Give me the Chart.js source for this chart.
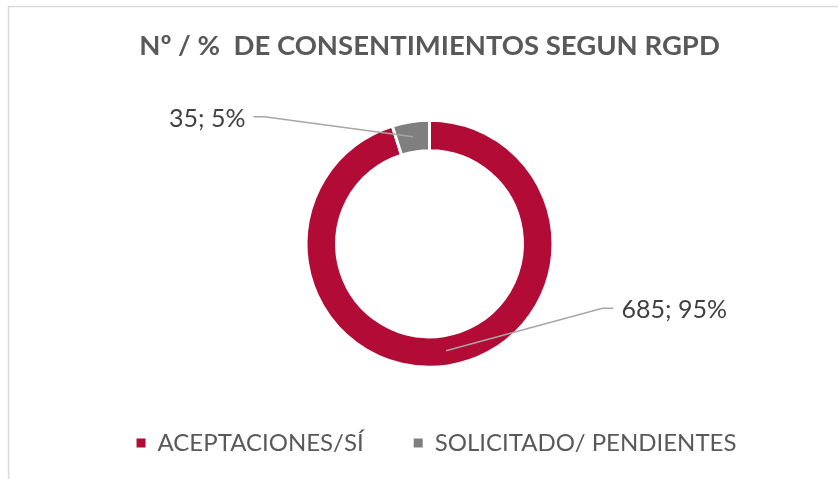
<!DOCTYPE html>
<html lang="es">
<head>
<meta charset="utf-8">
<title>Consentimientos RGPD</title>
<script src="https://cdn.jsdelivr.net/npm/chart.js@4.4.1/dist/chart.umd.min.js"></script>
<style>
  html, body { margin: 0; padding: 0; background: #fff; }
  canvas { display: block; }
</style>
</head>
<body>
<canvas id="consentChart" width="838" height="479"></canvas>
<script>
// --- Data ---
const categories = ["ACEPTACIONES/SÍ", "SOLICITADO/ PENDIENTES"];
const values = [685, 35];
const sliceColors = ["#B20B35", "#7F7F7F"];
const chartTitle = "Nº / %  DE CONSENTIMIENTOS SEGUN RGPD";

// --- Label placement (offset of the elbow from the ring centre) ---
const labelLayout = [
  { dx: 173, dy: 64.5, side: "right" },
  { dx: -165, dy: -127, side: "left" },
];

// --- Frame lines like the Excel chart border ---
const framePlugin = {
  id: "frame",
  beforeDraw(chart) {
    const { ctx, width, height } = chart;
    ctx.save();
    ctx.strokeStyle = "#d9d9d9";
    ctx.lineWidth = 1.5;
    ctx.beginPath();
    ctx.moveTo(8.5, height);
    ctx.lineTo(8.5, 6.5);
    ctx.lineTo(width, 6.5);
    ctx.stroke();
    ctx.restore();
  },
  // Excel centres the legend a little to the right of the title
  afterLayout(chart) {
    chart.legend.left += 7;
    chart.legend.right += 7;
  },
};

// --- Data labels with leader lines ---
const leaderLabels = {
  id: "leaderLabels",
  afterDatasetsDraw(chart) {
    const { ctx } = chart;
    const meta = chart.getDatasetMeta(0);
    const data = chart.data.datasets[0].data;
    const total = data.reduce((a, b) => a + b, 0);
    ctx.save();
    meta.data.forEach((arc, i) => {
      const p = arc.getProps(["x", "y", "startAngle", "endAngle", "innerRadius", "outerRadius"], true);
      const mid = (p.startAngle + p.endAngle) / 2;
      const r = (p.innerRadius + p.outerRadius) / 2;
      const ax = p.x + Math.cos(mid) * r;
      const ay = p.y + Math.sin(mid) * r;
      const lay = labelLayout[i];
      const ex = p.x + lay.dx;
      const ey = p.y + lay.dy;
      const dir = lay.side === "right" ? 1 : -1;
      const endX = ex + dir * 11;

      ctx.strokeStyle = "#A6A6A6";
      ctx.lineWidth = 1.5;
      ctx.beginPath();
      ctx.moveTo(ax, ay);
      ctx.lineTo(ex, ey);
      ctx.lineTo(endX, ey);
      ctx.stroke();

      const pct = Math.round((data[i] / total) * 100);
      ctx.fillStyle = "#404040";
      ctx.font = "25px Lato";
      ctx.textBaseline = "middle";
      ctx.textAlign = dir === 1 ? "left" : "right";
      ctx.fillText(`${data[i]}; ${pct}%`, endX + dir * 8, ey + 2);
    });
    ctx.restore();
  },
};

const ctx = document.getElementById("consentChart").getContext("2d");
new Chart(ctx, {
  type: "doughnut",
  data: {
    labels: categories,
    datasets: [
      {
        data: values,
        backgroundColor: sliceColors,
        borderColor: "#ffffff",
        borderWidth: 3,
        radius: 123.5,
        cutout: "75.3%",
      },
    ],
  },
  options: {
    responsive: false,
    animation: false,
    layout: { padding: { left: 21, right: 0, top: 0, bottom: 14 } },
    plugins: {
      title: {
        display: true,
        text: chartTitle,
        color: "#595959",
        font: { family: "Lato", size: 27.5, weight: "bold", lineHeight: 1.2 },
        padding: { top: 29.5, bottom: 44.1 },
      },
      legend: {
        position: "bottom",
        labels: {
          color: "#595959",
          font: { family: "Lato", size: 24 },
          boxWidth: 9,
          boxHeight: 9,
          padding: 50,
          generateLabels(chart) {
            const items = Chart.overrides.doughnut.plugins.legend.labels.generateLabels(chart);
            return items.map((it) => ({ ...it, lineWidth: 0 }));
          },
        },
      },
      tooltip: { enabled: false },
    },
  },
  plugins: [framePlugin, leaderLabels],
});
</script>
</body>
</html>
